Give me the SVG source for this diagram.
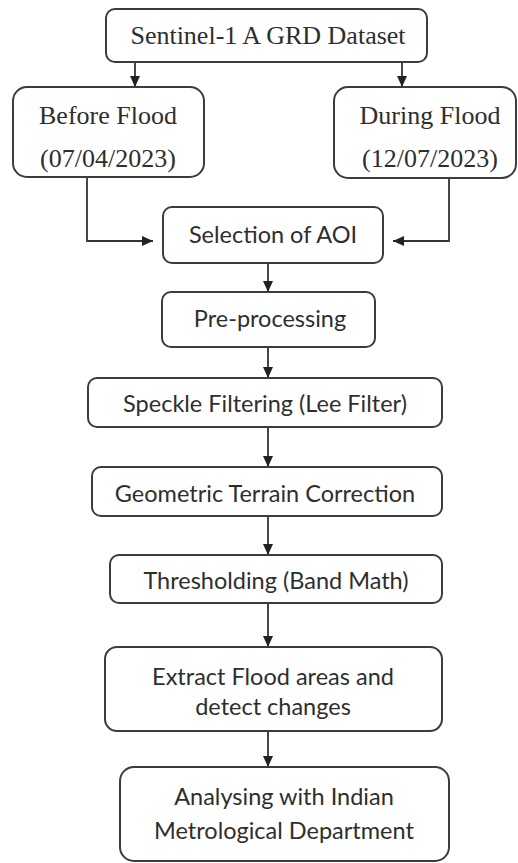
<svg xmlns="http://www.w3.org/2000/svg" width="518" height="863" viewBox="0 0 518 863">
<style>
.box{fill:#fff;stroke:#3c3c3c;stroke-width:2}
.serif{font-family:"Liberation Serif","Times New Roman",serif;font-size:26px;fill:#2e2e2e;text-anchor:middle}
.sans{font-family:Lato,"Open Sans",sans-serif;font-size:23.5px;fill:#2e2e2e;text-anchor:middle}
.conn{fill:none;stroke:#333;stroke-width:1.8}
</style>
<defs>
<marker id="arr" markerUnits="userSpaceOnUse" markerWidth="12" markerHeight="12" refX="11" refY="5" orient="auto">
<path d="M0,0 L11,5 L0,10 z" fill="#222"/>
</marker>
</defs>
<rect width="518" height="863" fill="#fff"/>
<g id="connectors">
<line class="conn" x1="135" y1="62" x2="135" y2="87" marker-end="url(#arr)"/>
<line class="conn" x1="402" y1="62" x2="402" y2="87" marker-end="url(#arr)"/>
<polyline class="conn" points="87,177 87,241 153,241" marker-end="url(#arr)"/>
<polyline class="conn" points="449,178 449,241 393,241" marker-end="url(#arr)"/>
<line class="conn" x1="268" y1="263" x2="268" y2="292" marker-end="url(#arr)"/>
<line class="conn" x1="268" y1="347" x2="268" y2="378" marker-end="url(#arr)"/>
<line class="conn" x1="268" y1="427" x2="268" y2="467" marker-end="url(#arr)"/>
<line class="conn" x1="268" y1="516" x2="268" y2="555" marker-end="url(#arr)"/>
<line class="conn" x1="268" y1="603" x2="268" y2="647" marker-end="url(#arr)"/>
<line class="conn" x1="268" y1="731" x2="268" y2="767" marker-end="url(#arr)"/>
</g>
<g id="sentinel">
<rect class="box" x="106" y="9" width="321" height="53" rx="9"/>
<text class="serif" x="268" y="44">Sentinel-1 A GRD Dataset</text>
</g>
<g id="before">
<rect class="box" x="13" y="87" width="191" height="90" rx="14"/>
<text class="serif" x="108" y="124">Before Flood</text>
<text class="serif" x="108" y="167">(07/04/2023)</text>
</g>
<g id="during">
<rect class="box" x="334" y="87" width="182" height="91" rx="14"/>
<text class="serif" x="430" y="124">During Flood</text>
<text class="serif" x="430" y="167">(12/07/2023)</text>
</g>
<g id="aoi">
<rect class="box" x="163" y="207" width="220" height="56" rx="9"/>
<text class="sans" x="273" y="243">Selection of AOI</text>
</g>
<g id="preprocessing">
<rect class="box" x="162" y="292" width="213" height="55" rx="9"/>
<text class="sans" x="270" y="327">Pre-processing</text>
</g>
<g id="speckle">
<rect class="box" x="88" y="378" width="354" height="49" rx="9"/>
<text class="sans" x="265" y="412">Speckle Filtering (Lee Filter)</text>
</g>
<g id="terrain">
<rect class="box" x="92" y="467" width="350" height="49" rx="9"/>
<text class="sans" x="265" y="502">Geometric Terrain Correction</text>
</g>
<g id="threshold">
<rect class="box" x="110" y="555" width="332" height="48" rx="9"/>
<text class="sans" x="276" y="589">Thresholding (Band Math)</text>
</g>
<g id="extract">
<rect class="box" x="105" y="647" width="337" height="84" rx="12"/>
<text class="sans" x="273" y="685">Extract Flood areas and</text>
<text class="sans" x="273" y="715">detect changes</text>
</g>
<g id="analysing">
<rect class="box" x="120" y="767" width="329" height="94" rx="14"/>
<text class="sans" x="284" y="805">Analysing with Indian</text>
<text class="sans" x="284" y="839">Metrological Department</text>
</g>
</svg>
